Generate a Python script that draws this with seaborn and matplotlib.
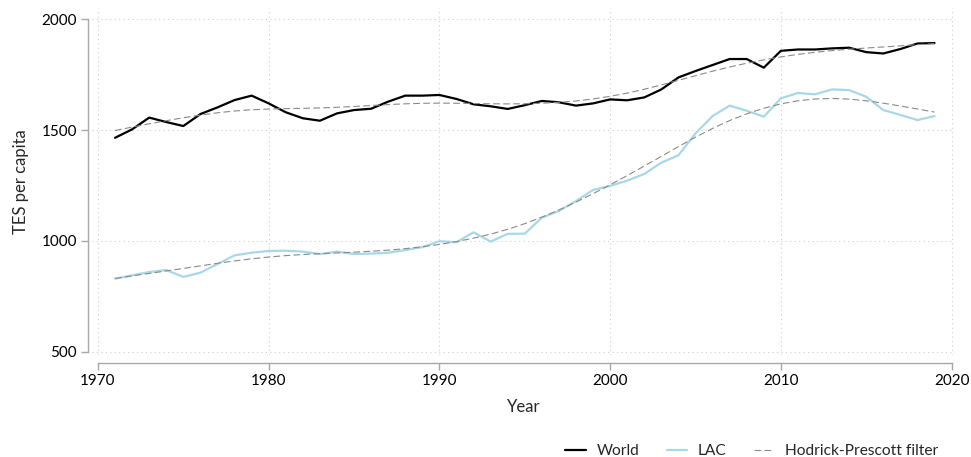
"""
World vs LAC total energy supply (TES) per capita, 1971-2019,
with Hodrick-Prescott trend lines.
"""

import matplotlib.pyplot as plt
import numpy as np
import pandas as pd
import seaborn as sns

YEARS = list(range(1971, 2020))

WORLD = [
    1465, 1503, 1556, 1536, 1518, 1572, 1602, 1635, 1655, 1620,
    1580, 1553, 1542, 1575, 1590, 1596, 1628, 1655, 1655, 1658,
    1640, 1616, 1607, 1595, 1612, 1631, 1625, 1610, 1620, 1638,
    1634, 1647, 1683, 1737, 1766, 1793, 1820, 1820, 1781, 1857,
    1863, 1863, 1868, 1871, 1851, 1845, 1865, 1890, 1892,
]

LAC = [
    830, 845, 860, 869, 838, 857, 896, 935, 947, 955,
    956, 952, 941, 952, 941, 943, 947, 959, 972, 999,
    994, 1039, 997, 1032, 1033, 1105, 1135, 1180, 1230, 1248,
    1272, 1302, 1353, 1386, 1485, 1563, 1610, 1587, 1560, 1643,
    1667, 1661, 1683, 1680, 1650, 1590, 1568, 1545, 1563,
]

HP_LAMBDA = 100

X_TICKS = [1970, 1980, 1990, 2000, 2010, 2020]
Y_TICKS = [500, 1000, 1500, 2000]

PX = 0.72  # 1 px in points at dpi 100


def hp_trend(values, lam):
    """Hodrick-Prescott 추세 성분."""
    y = np.asarray(values, dtype=float)
    n = len(y)
    d = np.zeros((n - 2, n))
    for i in range(n - 2):
        d[i, i:i + 3] = [1, -2, 1]
    return np.linalg.solve(np.eye(n) + lam * d.T @ d, y)


sns.set_style("white")
plt.rcParams["font.family"] = ["Lato", "DejaVu Sans"]

series = pd.DataFrame({"Year": YEARS, "World": WORLD, "LAC": LAC})
series["World_hp"] = hp_trend(WORLD, HP_LAMBDA)
series["LAC_hp"] = hp_trend(LAC, HP_LAMBDA)

fig = plt.figure(figsize=(9.71, 4.57), dpi=100)
ax = fig.add_axes([92 / 971, 1 - 355 / 457, (955 - 92) / 971, (355 - 8) / 457])

sns.lineplot(data=series, x="Year", y="World", ax=ax, color="black",
             linewidth=1.6, label="World")
sns.lineplot(data=series, x="Year", y="LAC", ax=ax, color="#a8d8e8",
             linewidth=1.6, label="LAC")
sns.lineplot(data=series, x="Year", y="World_hp", ax=ax, color="#8a8a8a",
             linewidth=0.8, linestyle=(0, (6, 3)), label="Hodrick-Prescott filter")
sns.lineplot(data=series, x="Year", y="LAC_hp", ax=ax, color="#8a8a8a",
             linewidth=0.8, linestyle=(0, (6, 3)), label="_nolegend_")

ax.set_xlim(1969.65, 2020.2)
ax.set_ylim(486, 2050)
ax.set_xticks(X_TICKS)
ax.set_yticks(Y_TICKS)

ax.grid(True, color="#cfcfcf", linestyle=(0, (1, 3)), linewidth=0.8)
for side in ["top", "right"]:
    ax.spines[side].set_visible(False)
ax.spines["left"].set_position(("outward", 4 * PX))
ax.spines["bottom"].set_position(("outward", 8 * PX))
ax.spines["left"].set_bounds(500, 2000)
ax.spines["bottom"].set_bounds(1970, 2020)
for side in ["left", "bottom"]:
    ax.spines[side].set_color("#a8a8a8")
    ax.spines[side].set_linewidth(1.0)

ax.tick_params(axis="both", which="major", length=5, width=1.0,
               color="#a8a8a8", labelsize=11, labelcolor="black", pad=3,
               left=True, bottom=True)
ax.set_xlabel("Year", fontsize=12, labelpad=8)
ax.set_ylabel("TES per capita", fontsize=12, labelpad=9)

handles, labels = ax.get_legend_handles_labels()
ax.legend(handles, labels, loc="lower right", bbox_to_anchor=(952 / 971, -0.033),
          bbox_transform=fig.transFigure, ncol=3, frameon=False, fontsize=11.2,
          handlelength=1.3, columnspacing=1.75, handletextpad=0.7)

fig.savefig("out.png", dpi=100)
